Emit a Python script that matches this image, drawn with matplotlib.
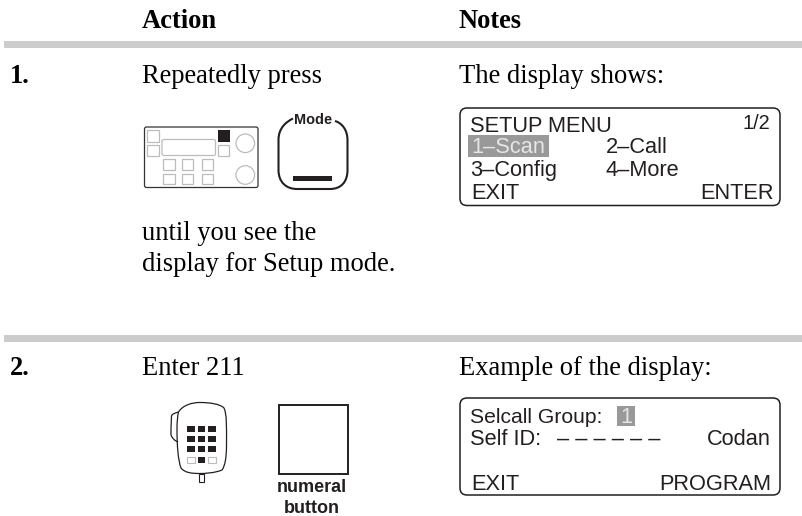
import matplotlib
matplotlib.use("Agg")
import matplotlib.pyplot as plt
from matplotlib.patches import Rectangle, FancyBboxPatch, Circle, PathPatch
from matplotlib.path import Path

headers = ["Action", "Notes"]
step_numbers = ["1.", "2."]
step1_action = ["Repeatedly press", "until you see the", "display for Setup mode."]
step1_note = "The display shows:"
step2_action = "Enter 211"
step2_note = "Example of the display:"
mode_label = "Mode"
numeral_label = ["numeral", "button"]
lcd1_title = "SETUP MENU"
lcd1_page = "1/2"
lcd1_options = ["1\u2013Scan", "2\u2013Call", "3\u2013Config", "4\u2013More"]
lcd1_soft = ["EXIT", "ENTER"]
lcd2_group = ["Selcall Group:", "1"]
lcd2_self = ["Self ID:", "\u2013 \u2013 \u2013 \u2013 \u2013 \u2013", "Codan"]
lcd2_soft = ["EXIT", "PROGRAM"]

SERIF = "Liberation Serif"
SANS = "Liberation Sans"
DARK = "#231f20"
LIGHT = "#bcbcbc"


def px(size):
    # figure is 100 dpi, sizes below are read in pixels
    return size * 0.72


fig = plt.figure(figsize=(8.03, 5.16), dpi=100)
ax = fig.add_axes([0, 0, 1, 1])
ax.set_xlim(0, 803)
ax.set_ylim(516, 0)
ax.axis("off")


def serif(x, y, s, bold=False):
    ax.text(x, y, s, family=SERIF, fontsize=px(26.5), va="baseline", color="black",
            weight="bold" if bold else "normal")


def sans(x, y, s, ha="left", size=21.8, color=DARK, bold=False):
    ax.text(x, y, s, family=SANS, fontsize=px(size), va="baseline", ha=ha, color=color,
            weight="bold" if bold else "normal")


def box(x0, y0, x1, y1, r=1.0, ec=LIGHT, fc="none", lw=0.9):
    ax.add_patch(FancyBboxPatch((x0 + r, y0 + r), x1 - x0 - 2 * r, y1 - y0 - 2 * r,
                                boxstyle="round,pad=%f,rounding_size=%f" % (r, r),
                                ec=ec, fc=fc, lw=lw))


def curve(verts, lw=1.2, ec=DARK):
    # first point, then triples of bezier points
    codes = [Path.MOVETO] + [Path.CURVE4] * (len(verts) - 1)
    ax.add_patch(PathPatch(Path(verts, codes), fc="none", ec=ec, lw=lw))


# rules
ax.add_patch(Rectangle((4, 41), 799, 7, fc="#cccccc", ec="none"))
ax.add_patch(Rectangle((4, 335), 799, 7, fc="#cccccc", ec="none"))

# text columns
serif(142, 28, headers[0], True)
serif(459, 28, headers[1], True)
serif(10, 83, step_numbers[0], True)
serif(142, 83, step1_action[0])
serif(142, 240, step1_action[1])
serif(142, 271, step1_action[2])
serif(459, 83, step1_note)
serif(10, 375, step_numbers[1], True)
serif(142, 375, step2_action)
serif(459, 375, step2_note)

# radio front panel
box(144.5, 127, 258, 187.5, r=2, ec="#333333", lw=0.9)
ax.add_patch(Rectangle((147.5, 130), 11.5, 11.5, fc="none", ec=LIGHT, lw=0.9))
ax.add_patch(Rectangle((147.5, 144.5), 11.5, 11, fc="none", ec=LIGHT, lw=0.9))
box(162, 139.5, 215.5, 155.5, r=2)
ax.add_patch(Rectangle((218, 130), 12, 11.5, fc=DARK, ec="none"))
ax.add_patch(Rectangle((218.5, 144.5), 11, 11, fc="none", ec=LIGHT, lw=0.9))
ax.add_patch(Circle((245.3, 143.3), 9.3, fc="none", ec=LIGHT, lw=0.9))
ax.add_patch(Circle((245.3, 175), 9.3, fc="none", ec=LIGHT, lw=0.9))
for bx in (163.5, 182.2, 201.8):
    for by in (159, 173.5):
        ax.add_patch(Rectangle((bx, by), 11.3, 10.5, fc="none", ec=LIGHT, lw=0.9))

# mode button
curve([(293, 118.5), (286, 122), (278.5, 128), (278.5, 140),
       (278.5, 150), (278.5, 160), (278.5, 170),
       (278.5, 182), (286, 189), (297, 189),
       (308, 189), (319, 189), (330, 189),
       (341, 189), (347.5, 182), (347.5, 170),
       (347.5, 160), (347.5, 150), (347.5, 140),
       (347.5, 130), (342, 123), (335, 121)], lw=1.5)
ax.add_patch(Rectangle((293, 176), 39, 5, fc=DARK, ec="none"))
ax.text(313, 124, mode_label, family=SANS, fontsize=px(14.5), weight="bold",
        ha="center", va="baseline", color=DARK)

# lcd 1
box(460, 108, 780, 205.5, r=7, ec=DARK, lw=1.1)
ax.add_patch(Rectangle((468, 135), 81, 22, fc="#999999", ec="none"))
sans(470, 132, lcd1_title)
sans(770, 129, lcd1_page, ha="right", size=20)
sans(471, 153, lcd1_options[0], color="#e6e6e6")
sans(606, 153, lcd1_options[1])
sans(470, 176, lcd1_options[2])
sans(606, 176, lcd1_options[3])
sans(471, 199, lcd1_soft[0])
sans(774, 199, lcd1_soft[1], ha="right")

# microphone
curve([(178.5, 412), (183, 405), (192, 402.5), (200, 402.5),
       (210, 402.5), (220, 404), (224, 408),
       (227, 415), (226.5, 425), (226.5, 445),
       (226.5, 458), (225, 466), (222, 470),
       (215, 473), (205, 473.5), (200, 473.5),
       (192, 473.5), (185, 473), (181, 468),
       (178, 460), (177, 445), (177, 430),
       (177, 422), (177.5, 416), (178.5, 412)], lw=0.9)
curve([(178.5, 412), (175, 413), (172, 414), (171.5, 416),
       (171, 425), (171, 432), (171, 435),
       (172, 438), (175, 441), (178, 442)], lw=0.9)
ax.add_patch(Rectangle((199, 473.5), 5.3, 8, fc="none", ec=DARK, lw=0.8))
for row, ky in enumerate((425.5, 435.7, 446, 456.7)):
    for col, kx in enumerate((187.3, 197.7, 208.3)):
        if row == 3 and col != 1:
            ax.add_patch(Rectangle((kx, ky), 7.5, 6, fc="none", ec=LIGHT, lw=0.8))
        else:
            ax.add_patch(Rectangle((kx, ky), 7.7, 6.3, fc=DARK, ec="none"))

# numeral button
ax.add_patch(Rectangle((279, 404.5), 69, 69, fc="none", ec=DARK, lw=1.4))
sans(312, 492, numeral_label[0], ha="center", size=18, bold=True)
sans(312, 513, numeral_label[1], ha="center", size=18, bold=True)

# lcd 2
box(460, 398, 780, 495, r=7, ec=DARK, lw=1.1)
ax.add_patch(Rectangle((617, 406), 18, 20, fc="#999999", ec="none"))
sans(470, 423, lcd2_group[0], size=21.2)
sans(626, 423, lcd2_group[1], ha="center", color="#e6e6e6")
sans(470, 445, lcd2_self[0])
sans(557, 445, lcd2_self[1])
sans(771, 445, lcd2_self[2], ha="right")
sans(471, 490, lcd2_soft[0])
sans(771, 490, lcd2_soft[1], ha="right")

fig.savefig("out.png", dpi=100)
